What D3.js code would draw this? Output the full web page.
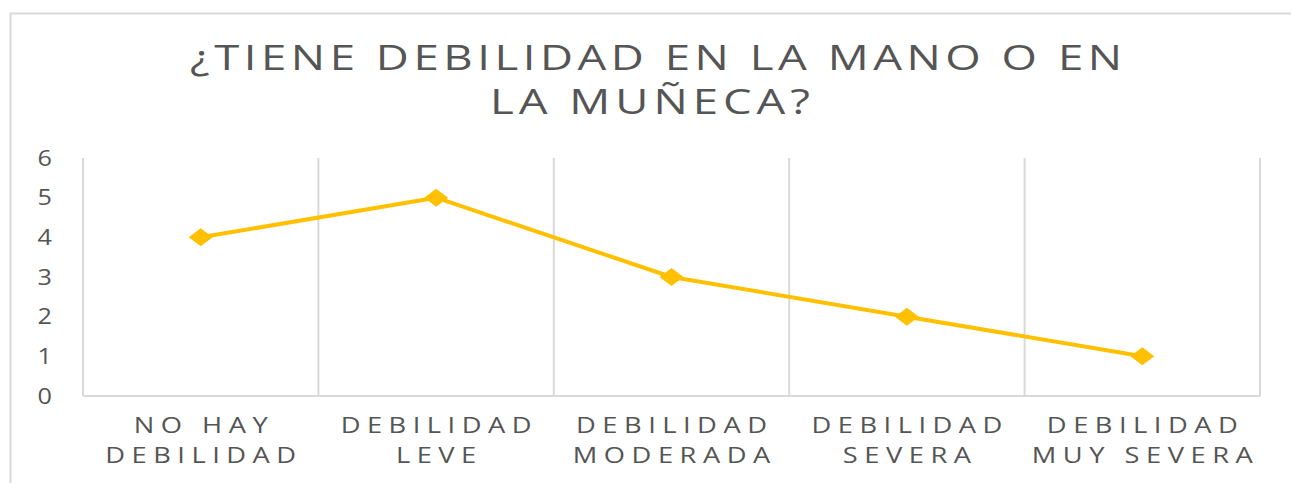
<!DOCTYPE html>
<html lang="es">
<head>
<meta charset="UTF-8">
<title>¿Tiene debilidad en la mano o en la muñeca?</title>
<script src="https://d3js.org/d3.v7.min.js"></script>
<style>
    body { margin: 0; background: #fff; }
    text { font-family: "Open Sans", "Noto Sans", sans-serif; fill: #555555; font-weight: 500; }
</style>
</head>
<body>
<svg id="chart" width="1291" height="483"></svg>
<script>
    // data
    const categories = ["NO HAY DEBILIDAD", "DEBILIDAD LEVE", "DEBILIDAD MODERADA", "DEBILIDAD SEVERA", "DEBILIDAD MUY SEVERA"];
    const categoryLines = [["NO HAY", "DEBILIDAD"], ["DEBILIDAD", "LEVE"], ["DEBILIDAD", "MODERADA"], ["DEBILIDAD", "SEVERA"], ["DEBILIDAD", "MUY SEVERA"]];
    const values = [4, 5, 3, 2, 1];
    const yTicks = [0, 1, 2, 3, 4, 5, 6];
    const titleLines = ["¿TIENE DEBILIDAD EN LA MANO O EN", "LA MUÑECA?"];

    const svg = d3.select("#chart");
    const plot = { left: 83, right: 1260, top: 158, bottom: 396 };
    const gridColor = "#d9d9d9";
    const stretch = 1.3; // the source image has wide, stretched glyphs

    // chart border
    svg.append("rect")
        .attr("x", 10.5).attr("y", 13.5)
        .attr("width", 1300).attr("height", 500)
        .attr("fill", "none")
        .attr("stroke", gridColor)
        .attr("stroke-width", 2);

    const x = d3.scaleBand().domain(categories).range([plot.left, plot.right]);
    const y = d3.scaleLinear().domain([0, 6]).range([plot.bottom, plot.top]);

    // title
    const titleWidths = [932, 320];
    svg.append("g").selectAll("text")
        .data(titleLines)
        .join("text")
        .attr("transform", (d, i) => `translate(${i === 0 ? 656 : 650},${70 + i * 44}) scale(${stretch},1)`)
        .attr("text-anchor", "middle")
        .attr("font-size", 35)
        .attr("textLength", (d, i) => titleWidths[i] / stretch)
        .attr("lengthAdjust", "spacing")
        .text(d => d);

    // vertical gridlines at category boundaries
    const bounds = categories.map(c => x(c)).concat([plot.right]);
    svg.append("g").selectAll("line")
        .data(bounds)
        .join("line")
        .attr("x1", d => d).attr("x2", d => d)
        .attr("y1", plot.top).attr("y2", plot.bottom)
        .attr("stroke", gridColor)
        .attr("stroke-width", 2);

    // horizontal axis line
    svg.append("line")
        .attr("x1", plot.left).attr("x2", plot.right)
        .attr("y1", plot.bottom).attr("y2", plot.bottom)
        .attr("stroke", gridColor)
        .attr("stroke-width", 2);

    // y tick labels
    svg.append("g").selectAll("text")
        .data(yTicks)
        .join("text")
        .attr("transform", d => `translate(52,${y(d)}) scale(1.2,1)`)
        .attr("dy", "0.36em")
        .attr("text-anchor", "end")
        .attr("font-size", 21)
        .text(d => d);

    // category labels (letter-spaced, two lines)
    const spacing = 5;
    const labelG = svg.append("g");
    categories.forEach((c, i) => {
        const cx = x(c) + x.bandwidth() / 2;
        categoryLines[i].forEach((line, j) => {
            labelG.append("text")
                .attr("transform", `translate(${cx + spacing * stretch / 2},${433 + j * 30}) scale(${stretch},1)`)
                .attr("text-anchor", "middle")
                .attr("font-size", 21)
                .attr("letter-spacing", spacing + "px")
                .text(line);
        });
    });

    // line
    const line = d3.line()
        .x((d, i) => x(categories[i]) + x.bandwidth() / 2)
        .y(d => y(d));

    svg.append("path")
        .datum(values)
        .attr("d", line)
        .attr("fill", "none")
        .attr("stroke", "#ffc000")
        .attr("stroke-width", 4)
        .attr("stroke-linejoin", "round");

    // diamond markers
    svg.append("g").selectAll("path")
        .data(values)
        .join("path")
        .attr("transform", (d, i) => `translate(${x(categories[i]) + x.bandwidth() / 2},${y(d)})`)
        .attr("d", "M-12,0L0,-9L12,0L0,9Z")
        .attr("fill", "#ffc000");
</script>
</body>
</html>
